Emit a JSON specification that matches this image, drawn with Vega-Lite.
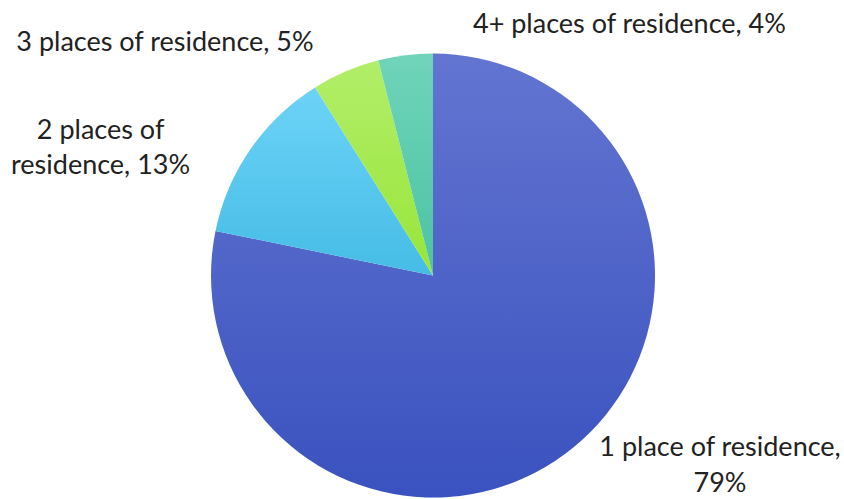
{
  "$schema": "https://vega.github.io/schema/vega-lite/v6.json",
  "autosize": "none",
  "padding": {"left": 11, "top": 26, "right": 0, "bottom": 0},
  "width": 844,
  "height": 499,
  "background": "white",
  "config": {"view": {"stroke": null}},
  "data": {
    "values": [
      {"category": "1 place of residence", "pct": 79, "label": "1 place of residence,\n79%"},
      {"category": "2 places of residence", "pct": 13, "label": "2 places of\nresidence, 13%"},
      {"category": "3 places of residence", "pct": 5, "label": "3 places of residence, 5%"},
      {"category": "4+ places of residence", "pct": 4, "label": "4+ places of residence, 4%"}
    ]
  },
  "encoding": {
    "theta": {"field": "pct", "type": "quantitative", "stack": true},
    "order": {"field": "category", "type": "ordinal"},
    "detail": {"field": "category", "type": "nominal"}
  },
  "layer": [
    {
      "mark": {"type": "arc", "outerRadius": 222},
      "encoding": {
        "fill": {
          "condition": [
            {"test": "datum.category === '1 place of residence'", "value": {"gradient": "linear", "x1": 0, "y1": 0, "x2": 0, "y2": 1, "stops": [{"offset": 0, "color": "#6375d1"}, {"offset": 1, "color": "#3a52bf"}]}},
            {"test": "datum.category === '2 places of residence'", "value": {"gradient": "linear", "x1": 0, "y1": 0, "x2": 0, "y2": 1, "stops": [{"offset": 0, "color": "#6dd3f7"}, {"offset": 1, "color": "#45bce6"}]}},
            {"test": "datum.category === '3 places of residence'", "value": {"gradient": "linear", "x1": 0, "y1": 0, "x2": 0, "y2": 1, "stops": [{"offset": 0, "color": "#b2ee6a"}, {"offset": 1, "color": "#98e538"}]}}
          ],
          "value": {"gradient": "linear", "x1": 0, "y1": 0, "x2": 0, "y2": 1, "stops": [{"offset": 0, "color": "#70d4ba"}, {"offset": 1, "color": "#4cc3a2"}]}
        }
      }
    },
    {
      "mark": {"type": "text", "radius": 250, "font": "Lato", "fontSize": 27, "fill": "#222222", "align": "center", "baseline": "alphabetic", "lineBreak": "\n", "lineHeight": 36, "dx": 129, "dy": -13},
      "encoding": {
        "text": {"condition": {"test": "datum.category === '1 place of residence'", "field": "label"}, "value": ""}
      }
    },
    {
      "mark": {"type": "text", "radius": 250, "font": "Lato", "fontSize": 27, "fill": "#222222", "align": "center", "baseline": "alphabetic", "lineBreak": "\n", "lineHeight": 35, "dx": -127, "dy": 6},
      "encoding": {
        "text": {"condition": {"test": "datum.category === '2 places of residence'", "field": "label"}, "value": ""}
      }
    },
    {
      "mark": {"type": "text", "radius": 250, "font": "Lato", "fontSize": 27, "fill": "#222222", "align": "right", "baseline": "alphabetic", "dx": -21, "dy": 5},
      "encoding": {
        "text": {"condition": {"test": "datum.category === '3 places of residence'", "field": "label"}, "value": ""}
      }
    },
    {
      "mark": {"type": "text", "radius": 250, "font": "Lato", "fontSize": 27, "fill": "#222222", "align": "left", "baseline": "alphabetic", "dx": 71, "dy": 6},
      "encoding": {
        "text": {"condition": {"test": "datum.category === '4+ places of residence'", "field": "label"}, "value": ""}
      }
    }
  ]
}
